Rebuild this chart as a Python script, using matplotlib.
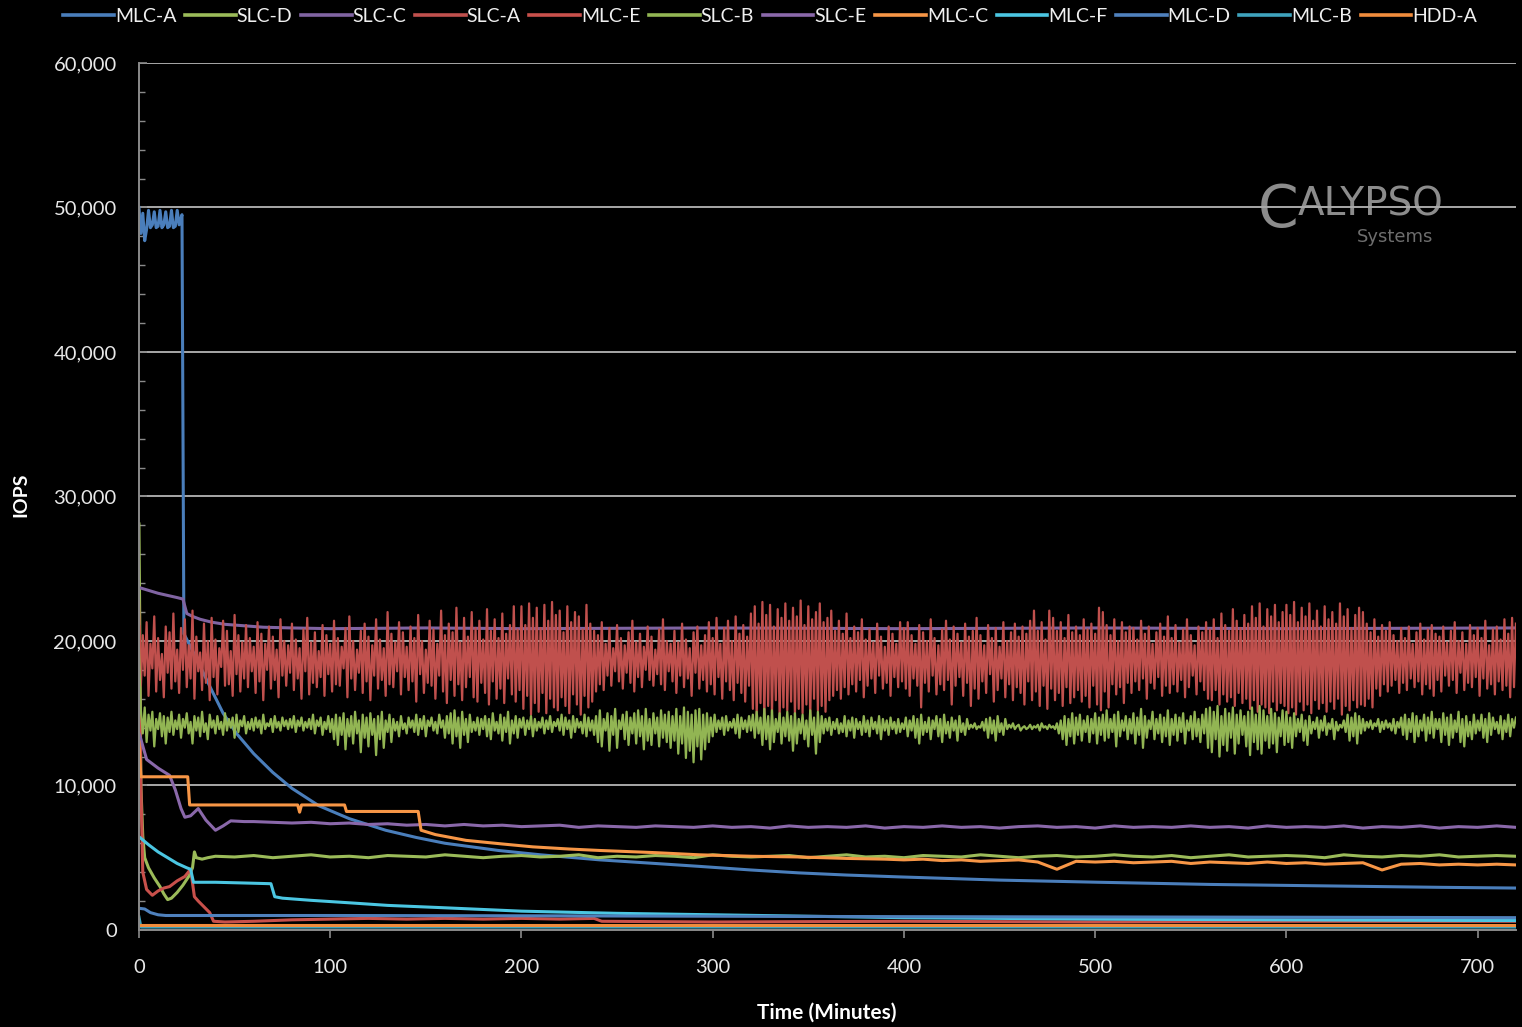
import numpy as np
import matplotlib.pyplot as plt
from matplotlib.ticker import FuncFormatter, MultipleLocator

plt.rcParams['font.family'] = ['Lato', 'DejaVu Sans']

names = ['MLC-A', 'SLC-D', 'SLC-C', 'SLC-A', 'MLC-E', 'SLC-B',
         'SLC-E', 'MLC-C', 'MLC-F', 'MLC-D', 'MLC-B', 'HDD-A']
colors = ['#4a7ebb', '#9bbb59', '#8064a2', '#c0504d', '#c8504b', '#92b553',
          '#8a68aa', '#f79646', '#4bc6e2', '#4f81bd', '#3fa3bd', '#f08c3c']

# values in thousands of IOPS, time in minutes

mlc_a_t = [0, 1, 2, 3, 4, 5, 6, 7, 8, 9, 10, 11, 12, 13, 14, 15, 16, 17, 18, 19, 20, 21,
           22.5, 23.5, 30, 38, 44, 51, 60, 70, 80, 94, 110, 129,
           145, 160, 188, 210, 241, 270, 293, 320, 345, 370,
           398, 450, 502, 560, 620, 680, 720]
mlc_a_v = [50.0, 48.2, 49.6, 47.7, 48.5, 49.8, 48.6, 48.8, 49.7, 48.6,
           48.7, 49.8, 48.6, 48.8, 49.7, 48.6, 48.7, 49.8, 48.6, 48.7,
           49.8, 48.8, 49.5, 20.5, 18.8, 16.6, 15.0, 13.6, 12.2, 10.9, 9.8, 8.6, 7.7, 6.9,
           6.4, 6.0, 5.5, 5.2, 4.85, 4.6, 4.4, 4.15, 3.95, 3.8,
           3.67, 3.45, 3.3, 3.15, 3.05, 2.95, 2.9]

slc_d_t = [0, 0.5, 1, 2, 3, 5, 8, 11, 13, 15, 17, 20, 23, 26, 28, 29, 30, 33, 36]
slc_d_v = [28.1, 20.0, 10.0, 6.5, 5.0, 4.3, 3.6, 3.0, 2.5, 2.1, 2.2, 2.6, 3.1, 3.7, 4.3, 5.4, 5.0, 4.9, 5.0]
slc_d_tail = [5.1, 5.05, 5.15, 5.0, 5.1, 5.2, 5.05, 5.1, 5.0, 5.15,
              5.1, 5.05, 5.2, 5.1, 5.0, 5.1, 5.15, 5.05, 5.1, 5.2,
              5.0, 5.1, 5.05, 5.15, 5.1, 5.0, 5.2, 5.1, 5.05, 5.1,
              5.15, 5.0, 5.1, 5.2, 5.05, 5.1, 5.0, 5.15, 5.1, 5.05,
              5.2, 5.1, 5.0, 5.1, 5.15, 5.05, 5.1, 5.2, 5.1, 5.05,
              5.15, 5.0, 5.1, 5.2, 5.05, 5.1, 5.15, 5.1, 5.0, 5.2,
              5.1, 5.05, 5.15, 5.1, 5.2, 5.05, 5.1, 5.15, 5.1]  # t = 40..720 step 10

slc_c_t = [0, 5, 10, 15, 20, 23, 25, 28, 32, 38, 45, 55, 65, 80, 100, 150, 200, 300, 400, 500, 600, 720]
slc_c_v = [23.7, 23.5, 23.3, 23.15, 23.0, 22.9, 21.9, 21.7, 21.5, 21.3, 21.15, 21.05, 20.95, 20.9,
           20.85, 20.9, 20.85, 20.9, 20.85, 20.9, 20.85, 20.9]

# SLC-A, one sample per minute (0..720)
slc_a_v = [
    22.8, 16.9, 20.4, 17.6, 21.3, 16.2, 19.8, 18.1, 21.7, 16.5, 20.2, 17.3, 19.1, 16.1, 21.0, 17.8, 20.6, 16.7, 21.9, 17.2,
    19.4, 16.4, 20.9, 18.0, 21.5, 16.8, 19.7, 17.4, 22.1, 16.0, 20.3, 17.9, 19.2, 16.6, 21.2, 17.1, 20.0, 15.9, 21.6, 17.5,
    20.1, 16.3, 19.5, 18.2, 21.4, 16.9, 20.7, 17.0, 19.3, 16.2, 21.8, 17.7, 20.4, 16.5, 19.9, 17.4, 21.1, 16.8, 20.2, 17.9,
    19.6, 16.4, 21.3, 17.2, 20.5, 15.9, 19.8, 18.0, 21.0, 16.7, 20.3, 17.3, 19.4, 16.1, 21.5, 17.6, 20.0, 16.9, 19.7, 17.8,
    21.2, 16.6, 20.1, 17.4, 19.5, 16.0, 20.8, 17.9, 21.6, 16.3, 19.9, 17.1, 20.6, 16.8, 19.3, 17.5, 21.1, 16.2, 20.4, 17.7,
    19.8, 16.5, 21.4, 17.0, 20.2, 16.9, 19.6, 18.1, 20.9, 16.1, 21.7, 17.4, 20.0, 16.6, 19.4, 17.8, 20.7, 16.4, 21.2, 17.2,
    20.3, 15.9, 19.7, 17.6, 21.5, 16.7, 20.1, 17.3, 19.5, 16.2, 22.0, 17.0, 20.5, 16.8, 19.9, 17.9, 21.3, 16.3, 20.6, 17.5,
    19.6, 16.6, 21.0, 17.2, 20.2, 15.8, 21.8, 17.7, 20.0, 16.4, 19.4, 17.1, 21.4, 16.9, 20.8, 16.0, 19.8, 17.6, 22.1, 16.5,
    20.4, 15.7, 21.2, 17.3, 20.6, 16.2, 22.3, 17.0, 19.9, 15.9, 21.6, 16.8, 20.3, 17.5, 22.0, 16.1, 20.9, 15.8, 21.4, 17.1,
    20.1, 16.4, 22.2, 15.6, 20.7, 17.2, 21.5, 16.0, 20.2, 16.7, 21.9, 15.7, 20.5, 17.4, 21.1, 16.3, 22.4, 15.8, 20.8, 16.6,
    22.4, 15.3, 21.1, 16.2, 22.6, 14.9, 21.6, 15.7, 22.3, 15.1, 20.9, 16.4, 22.5, 15.0, 21.4, 16.0, 22.7, 15.4, 21.8, 15.2,
    22.1, 16.1, 20.6, 15.5, 22.4, 15.0, 21.3, 16.3, 22.0, 15.6, 21.7, 14.9, 20.8, 16.2, 22.5, 15.4, 21.2, 15.8, 20.7, 16.5,
    20.4, 17.0, 21.3, 16.6, 19.8, 17.6, 20.9, 16.9, 19.5, 17.9, 21.1, 17.2, 20.2, 16.7, 19.7, 17.8, 20.6, 17.1, 21.4, 16.5,
    19.9, 17.5, 20.5, 16.8, 19.6, 18.0, 21.0, 17.3, 20.3, 16.9, 19.4, 17.7, 20.8, 17.0, 21.5, 16.6, 20.0, 17.9, 19.8, 17.2,
    20.7, 16.4, 19.9, 17.6, 21.2, 16.8, 20.1, 17.4, 19.5, 16.2, 20.6, 17.8, 21.0, 16.7, 19.7, 17.3, 20.4, 16.5, 21.3, 17.0,
    20.2, 16.3, 21.6, 17.5, 19.8, 16.0, 20.9, 17.2, 21.4, 16.6, 20.0, 15.9, 21.7, 17.1, 20.5, 16.4, 21.1, 15.8, 20.3, 16.9,
    21.9, 15.3, 22.4, 14.8, 21.2, 15.7, 22.7, 14.6, 21.8, 15.5, 22.5, 15.0, 21.0, 15.9, 22.2, 14.7, 21.6, 15.4, 22.6, 15.2,
    21.4, 15.8, 22.3, 14.9, 21.7, 15.3, 22.8, 15.0, 21.1, 15.6, 22.4, 14.7, 21.5, 16.0, 22.0, 15.2, 22.6, 15.5, 21.3, 15.1,
    21.6, 15.9, 22.1, 16.2, 20.7, 16.6, 21.4, 16.0, 20.5, 16.8, 21.9, 16.3, 20.2, 17.0, 21.0, 16.5, 20.6, 17.3, 21.5, 16.1,
    20.1, 16.9, 20.8, 17.4, 19.9, 16.4, 21.2, 17.6, 20.3, 16.7, 19.6, 17.1, 21.0, 16.2, 20.5, 17.5, 19.8, 16.8, 21.3, 17.2,
    20.9, 16.7, 21.3, 16.2, 20.4, 17.4, 19.8, 16.9, 21.1, 15.4, 20.6, 17.1, 20.0, 16.5, 21.5, 17.6, 20.2, 16.3, 19.7, 17.0,
    20.8, 16.6, 21.4, 17.3, 20.1, 15.6, 21.0, 16.9, 20.5, 17.5, 19.9, 16.2, 21.2, 17.1, 20.3, 15.5, 20.7, 16.7, 21.6, 16.0,
    20.4, 17.2, 19.7, 16.4, 21.1, 17.7, 20.2, 15.8, 20.9, 16.6, 19.6, 17.4, 21.3, 16.1, 20.0, 17.0, 20.6, 15.9, 21.2, 16.8,
    20.3, 16.4, 21.0, 15.6, 20.5, 17.2, 21.4, 15.9, 22.1, 16.5, 20.7, 15.5, 21.3, 16.9, 20.1, 15.3, 22.1, 16.7, 21.6, 15.9,
    20.7, 16.4, 21.3, 15.5, 20.2, 16.8, 21.8, 15.7, 20.6, 16.1, 21.0, 16.6, 20.4, 15.8, 21.5, 16.2, 20.8, 15.4, 21.2, 16.9,
    20.5, 15.6, 22.3, 15.2, 22.0, 16.5, 21.1, 15.4, 20.4, 17.0, 21.5, 16.3, 20.0, 16.8, 21.3, 15.7, 20.6, 17.1, 21.0, 16.4,
    20.9, 17.2, 20.1, 16.6, 21.4, 17.4, 20.5, 16.0, 21.0, 17.1, 19.8, 16.7, 20.6, 17.5, 21.2, 16.2, 20.3, 16.9, 21.7, 16.4,
    20.2, 17.0, 21.1, 16.5, 19.9, 17.3, 20.8, 16.1, 21.5, 16.8, 20.4, 17.6, 19.7, 16.3, 21.0, 17.2, 20.6, 16.6, 21.3, 16.0,
    20.8, 15.9, 21.5, 16.6, 20.2, 15.6, 21.9, 16.3, 21.1, 15.8, 20.7, 16.1, 22.2, 15.5, 21.4, 16.4, 20.9, 15.7, 21.8, 16.0,
    21.2, 15.3, 22.4, 15.9, 21.6, 15.1, 22.6, 15.6, 21.0, 15.4, 22.2, 15.0, 21.7, 15.8, 22.5, 15.2, 21.3, 15.7, 22.0, 15.5,
    22.5, 15.0, 21.8, 15.4, 22.7, 14.9, 21.3, 15.8, 22.3, 15.2, 21.7, 15.6, 22.6, 15.0, 21.4, 15.9, 22.1, 15.3, 21.0, 15.7,
    22.4, 15.1, 21.5, 15.8, 22.0, 15.3, 21.2, 16.0, 22.6, 14.9, 21.7, 15.5, 22.2, 15.2, 20.9, 15.9, 21.8, 15.4, 22.3, 15.6,
    22.0, 15.5, 21.2, 16.0, 20.6, 15.4, 21.5, 16.7, 20.3, 16.2, 21.1, 17.0, 20.7, 16.5, 21.3, 16.9, 20.4, 17.3, 20.0, 16.4,
    20.9, 17.1, 20.2, 16.6, 21.0, 17.4, 19.8, 16.8, 20.6, 17.2, 21.2, 16.3, 20.1, 17.0, 20.8, 16.7, 21.1, 16.2, 20.5, 17.3,
    20.3, 16.5, 21.0, 17.6, 19.9, 16.9, 20.7, 17.3, 21.3, 16.4, 20.0, 17.8, 20.6, 16.6, 19.8, 17.1, 21.1, 16.8, 20.4, 17.5,
    20.9, 16.2, 20.2, 17.4, 21.4, 16.7, 19.7, 17.0, 20.8, 16.3, 21.0, 17.2, 20.1, 16.6, 21.5, 16.9, 20.5, 16.1, 21.6, 16.8,
    21.2]

mlc_e_t = [0, 1, 2, 4, 7, 10, 13, 16, 20, 24, 27, 29, 31, 34, 37, 39, 45, 60, 80, 100,
           120, 140, 160, 180, 200, 220, 238, 242, 300, 400, 500, 600, 720]
mlc_e_v = [21.0, 10.0, 4.0, 2.8, 2.4, 2.7, 2.9, 3.0, 3.4, 3.7, 4.2, 2.3, 2.0, 1.6, 1.2, 0.6, 0.55, 0.6, 0.7, 0.75,
           0.8, 0.75, 0.8, 0.75, 0.8, 0.75, 0.8, 0.6, 0.55, 0.6, 0.55, 0.6, 0.6]

# SLC-B, one sample per minute (0..720)
slc_b_v = [
    19.5, 15.2, 13.6, 15.4, 13.0, 14.9, 13.8, 15.1, 12.7, 14.6, 13.9, 15.0, 13.4, 14.8, 12.9, 14.7, 13.7, 15.1, 13.5, 14.5,
    13.9, 14.9, 13.3, 14.6, 14.0, 15.0, 13.6, 14.4, 12.9, 14.8, 13.8, 14.7, 13.4, 15.1, 13.7, 14.3, 13.2, 14.9, 14.0, 14.5,
    13.6, 14.8, 13.9, 14.4, 13.5, 15.0, 13.8, 14.6, 14.0, 14.7, 13.3, 14.9, 13.7, 14.5, 14.1, 14.8, 13.6, 14.4, 13.9, 14.6,
    13.8, 14.7, 14.0, 14.5, 13.6, 14.9, 13.9, 14.3, 14.1, 14.6, 13.7, 14.8, 14.0, 14.4, 13.8, 14.7, 14.1, 14.5, 13.9, 14.6,
    14.0, 14.8, 13.7, 14.5, 14.1, 14.7, 13.8, 14.4, 14.0, 14.6, 13.9, 14.9, 13.6, 14.5, 14.1, 14.7, 13.5, 14.4, 13.9, 14.8,
    13.7, 14.6, 13.2, 14.9, 12.8, 14.7, 13.5, 15.0, 12.5, 14.6, 13.4, 14.8, 12.9, 15.1, 13.6, 14.5, 12.3, 14.9, 13.3, 14.7,
    12.7, 15.0, 13.5, 14.6, 12.1, 14.8, 13.2, 15.1, 12.6, 14.5, 13.7, 14.9, 13.0, 14.6, 13.8, 14.4, 13.4, 14.8, 13.9, 14.3,
    13.6, 14.7, 14.0, 14.5, 13.7, 14.9, 13.5, 14.6, 13.9, 14.8, 13.4, 14.5, 14.1, 14.7, 13.8, 14.4, 13.6, 14.9, 14.0, 14.5,
    13.3, 14.8, 13.6, 15.0, 12.9, 15.2, 13.4, 14.7, 12.6, 15.1, 13.5, 14.6, 13.0, 14.9, 13.7, 14.4, 13.8, 14.7, 13.5, 14.6,
    13.9, 14.8, 13.4, 14.6, 13.2, 15.0, 13.8, 14.4, 13.6, 14.9, 13.1, 14.7, 13.7, 15.1, 12.9, 14.5, 13.6, 14.8, 13.3, 14.6,
    14.0, 14.7, 13.5, 14.5, 13.9, 14.8, 13.4, 14.6, 13.8, 14.4, 14.0, 14.7, 13.6, 14.5, 13.9, 14.8, 13.7, 14.4, 14.1, 14.6,
    13.8, 14.9, 13.5, 14.7, 13.9, 14.5, 13.3, 14.8, 13.7, 14.6, 14.0, 14.4, 13.6, 14.9, 13.4, 14.7, 13.8, 14.5, 13.5, 14.8,
    13.0, 15.2, 12.7, 14.6, 13.8, 15.0, 12.4, 14.8, 13.5, 15.3, 12.6, 14.5, 13.9, 14.9, 13.2, 15.1, 12.8, 14.7, 13.6, 15.0,
    12.9, 15.2, 13.4, 14.8, 12.5, 15.3, 13.1, 14.6, 12.8, 15.0, 13.6, 14.7, 12.7, 15.2, 13.3, 14.9, 13.0, 15.1, 12.6, 14.8,
    13.1, 15.3, 12.2, 14.8, 12.9, 15.4, 11.9, 15.1, 12.4, 14.9, 11.6, 15.2, 12.7, 15.3, 11.8, 14.9, 12.5, 15.0, 13.0, 14.7,
    13.4, 14.9, 13.7, 14.5, 13.9, 14.7, 13.5, 14.8, 13.8, 14.4, 14.0, 14.6, 13.6, 14.9, 13.3, 14.7, 13.9, 14.5, 13.7, 14.8,
    13.8, 14.9, 13.3, 15.1, 13.6, 14.7, 12.8, 15.3, 13.2, 14.8, 12.5, 15.2, 13.0, 14.6, 13.7, 15.0, 12.9, 14.7, 13.4, 15.1,
    13.1, 14.8, 12.4, 15.0, 12.9, 14.6, 13.6, 14.9, 13.2, 14.5, 12.7, 15.2, 13.5, 14.7, 12.2, 15.1, 13.0, 14.8, 13.6, 14.6,
    13.8, 14.7, 13.5, 14.4, 13.9, 14.6, 13.6, 14.3, 13.7, 14.8, 13.4, 14.5, 13.8, 14.7, 13.3, 14.6, 13.9, 14.4, 13.5, 14.8,
    13.7, 14.5, 13.4, 14.7, 13.9, 14.4, 13.6, 14.8, 13.2, 14.6, 13.8, 14.5, 13.5, 14.7, 13.9, 14.4, 13.6, 14.6, 13.7, 14.3,
    13.9, 14.7, 13.4, 14.5, 13.8, 14.8, 13.3, 14.6, 12.9, 14.9, 13.5, 14.4, 13.7, 14.7, 13.2, 14.5, 13.9, 14.8, 13.4, 14.6,
    13.0, 14.9, 13.6, 14.4, 13.3, 14.7, 13.8, 14.5, 13.1, 14.8, 13.7, 14.3, 13.5, 14.6, 13.9, 14.2, 14.0, 14.3, 13.9, 14.1,
    14.0, 14.4, 13.8, 14.6, 13.3, 14.7, 13.6, 14.5, 13.1, 14.8, 13.7, 14.3, 13.5, 14.6, 13.9, 14.2, 14.0, 14.3, 13.9, 14.1,
    14.2, 13.8, 14.0, 14.1, 13.9, 14.0, 14.2, 13.9, 14.1, 14.0, 14.2, 13.8, 14.3, 14.0, 14.1, 13.9, 14.2, 14.0, 14.1, 13.9,
    14.3, 13.6, 14.5, 13.2, 14.8, 12.8, 14.6, 13.4, 15.0, 12.9, 14.7, 13.5, 14.9, 13.1, 14.5, 13.7, 14.8, 13.0, 14.6, 13.6,
    15.0, 12.9, 14.7, 13.5, 14.9, 13.1, 15.2, 13.3, 14.6, 13.7, 14.9, 12.7, 15.1, 13.4, 14.5, 13.8, 14.8, 13.2, 14.6, 13.6,
    15.0, 12.9, 14.7, 13.5, 15.3, 12.6, 14.8, 13.3, 14.5, 13.9, 15.1, 13.2, 14.6, 13.6, 14.9, 13.0, 14.7, 13.4, 15.2, 12.8,
    14.6, 13.5, 14.9, 13.1, 14.7, 13.7, 15.0, 12.9, 14.5, 13.8, 14.8, 13.2, 15.1, 13.4, 14.6, 13.0, 14.9, 13.6, 15.3, 12.6,
    15.4, 12.3, 15.1, 13.2, 15.5, 12.0, 14.8, 12.8, 15.3, 12.4, 15.0, 13.3, 15.4, 12.2, 14.9, 12.9, 15.2, 13.5, 14.8, 12.7,
    15.1, 12.1, 15.4, 13.0, 14.9, 12.5, 15.5, 12.2, 15.2, 13.1, 14.8, 12.6, 15.3, 12.9, 15.0, 12.3, 14.7, 13.4, 15.2, 12.8,
    15.1, 13.0, 14.7, 12.6, 15.0, 13.4, 14.6, 13.7, 14.9, 13.1, 14.5, 12.8, 14.8, 13.6, 14.4, 13.9, 14.7, 13.3, 14.5, 13.8,
    14.8, 13.5, 14.3, 13.9, 14.6, 13.2, 14.4, 13.8, 14.2, 14.0, 14.5, 13.7, 14.9, 13.1, 14.7, 13.4, 15.0, 12.9, 14.8, 13.6,
    14.6, 13.8, 14.4, 14.0, 14.5, 13.9, 14.3, 14.1, 14.6, 13.7, 14.4, 13.9, 14.5, 14.0, 14.3, 13.8, 14.6, 13.6, 14.4, 14.0,
    14.7, 13.5, 14.9, 13.2, 14.6, 13.7, 15.0, 13.0, 14.8, 13.4, 14.5, 13.8, 14.9, 13.1, 14.7, 13.6, 15.1, 13.3, 14.6, 13.9,
    14.6, 13.0, 15.0, 13.5, 14.7, 12.8, 14.9, 13.3, 14.5, 13.7, 15.1, 13.0, 14.6, 12.7, 14.8, 13.4, 14.4, 13.2, 14.9, 13.6,
    14.5, 13.8, 14.9, 13.3, 14.6, 13.0, 15.0, 13.5, 14.7, 13.9, 14.4, 13.6, 14.8, 13.2, 14.5, 13.7, 14.9, 13.4, 14.6, 14.0,
    14.7]

slc_e_t = [0, 1, 4, 10, 16, 19, 22, 24, 27, 31, 35, 40, 44, 48, 55]
slc_e_v = [13.6, 13.2, 11.8, 11.2, 10.7, 9.7, 8.4, 7.8, 7.9, 8.4, 7.6, 6.9, 7.2, 7.55, 7.5]
slc_e_tail = [7.5, 7.45, 7.4, 7.45, 7.35, 7.4, 7.3, 7.35, 7.25, 7.3,
              7.2, 7.3, 7.2, 7.25, 7.15, 7.2, 7.25, 7.1, 7.2, 7.15,
              7.1, 7.2, 7.15, 7.1, 7.2, 7.1, 7.15, 7.05, 7.2, 7.1,
              7.15, 7.1, 7.2, 7.05, 7.15, 7.1, 7.2, 7.1, 7.15, 7.05,
              7.15, 7.2, 7.1, 7.15, 7.05, 7.2, 7.1, 7.15, 7.1, 7.2,
              7.1, 7.15, 7.05, 7.2, 7.1, 7.15, 7.1, 7.2, 7.05, 7.15,
              7.1, 7.2, 7.05, 7.15, 7.1, 7.2, 7.1]  # t = 60..720 step 10

mlc_c_t = [0, 1, 25.5, 26.5, 83, 84, 85, 107.5, 108.5, 146, 147.5, 155, 171, 190, 206, 225, 241, 270, 293, 320,
           345, 370, 390]
mlc_c_v = [13.0, 10.6, 10.6, 8.65, 8.65, 8.15, 8.65, 8.65, 8.2, 8.2, 6.9, 6.6, 6.2, 5.95, 5.75, 5.6, 5.5, 5.35, 5.2, 5.1,
           5.05, 4.95, 4.9]
mlc_c_tail = [4.85, 4.9, 4.8, 4.85, 4.75, 4.8, 4.85, 4.7, 4.2, 4.75,
              4.7, 4.75, 4.65, 4.7, 4.75, 4.6, 4.7, 4.65, 4.6, 4.7,
              4.6, 4.65, 4.55, 4.6, 4.65, 4.15, 4.55, 4.6, 4.5, 4.55,
              4.5, 4.55, 4.5]  # t = 400..720 step 10

mlc_f_t = [0, 5, 10, 15, 20, 25, 27, 28.5, 40, 55, 69, 71, 75, 90, 111, 130, 157, 200, 250, 300, 400, 500, 600, 720]
mlc_f_v = [6.45, 5.9, 5.4, 5.0, 4.6, 4.3, 4.2, 3.3, 3.3, 3.25, 3.2, 2.3, 2.2, 2.05, 1.87, 1.7, 1.55, 1.3, 1.15, 1.05,
           0.85, 0.75, 0.7, 0.65]

mlc_d_t = [0, 3, 6, 10, 14, 100, 200, 300, 400, 500, 600, 720]
mlc_d_v = [1.5, 1.45, 1.2, 1.05, 1.0, 1.0, 0.98, 0.95, 0.92, 0.9, 0.88, 0.85]

mlc_b_t = [0, 1, 720]
mlc_b_v = [0.9, 0.2, 0.2]

hdd_a_t = [0, 720]
hdd_a_v = [0.35, 0.35]

t1 = np.arange(0, 721)
series = [
    (mlc_a_t, mlc_a_v),
    (slc_d_t + list(range(40, 721, 10)), slc_d_v + slc_d_tail),
    (slc_c_t, slc_c_v),
    (t1, slc_a_v),
    (mlc_e_t, mlc_e_v),
    (t1, slc_b_v),
    (slc_e_t + list(range(60, 721, 10)), slc_e_v + slc_e_tail),
    (mlc_c_t + list(range(400, 721, 10)), mlc_c_v + mlc_c_tail),
    (mlc_f_t, mlc_f_v),
    (mlc_d_t, mlc_d_v),
    (mlc_b_t, mlc_b_v),
    (hdd_a_t, hdd_a_v),
]

fig = plt.figure(figsize=(15.22, 10.27), dpi=100, facecolor='black')
ax = fig.add_axes([0.0913, 0.0945, 0.9047, 0.8442])
ax.set_facecolor('black')

handles = []
for i, (name, (t, v)) in enumerate(zip(names, series)):
    assert len(t) == len(v), (name, len(t), len(v))
    lw = 1.6 if name in ('SLC-A', 'SLC-B') else 2.2
    ln, = ax.plot(t, np.array(v) * 1000, color=colors[i], lw=lw, zorder=2 + i * 0.01)
    handles.append(ln)

ax.set_xlim(0, 720)
ax.set_ylim(0, 60000)
ax.xaxis.set_major_locator(MultipleLocator(100))
ax.yaxis.set_major_locator(MultipleLocator(10000))
ax.yaxis.set_minor_locator(MultipleLocator(2000))
ax.yaxis.set_major_formatter(FuncFormatter(lambda v, p: f'{int(v):,}'))

ax.set_axisbelow(True)
ax.yaxis.grid(True, color='#a8a8a8', lw=1.4)
ax.get_ygridlines()[-1].set_visible(False)
ax.get_ygridlines()[0].set_visible(False)

for s in ['top', 'right']:
    ax.spines[s].set_visible(False)
for s in ['left', 'bottom']:
    ax.spines[s].set_color('#8a8a8a')
    ax.spines[s].set_linewidth(1.4)

ax.tick_params(axis='y', which='major', direction='in', length=6, width=1.2, color='#8a8a8a',
               labelsize=14.5, labelcolor='#e8e8e8', pad=16)
ax.tick_params(axis='y', which='minor', direction='in', length=4, width=1.0, color='#8a8a8a')
ax.tick_params(axis='x', which='major', direction='out', length=6, width=1.2, color='#8a8a8a',
               labelsize=14.5, labelcolor='#e8e8e8', pad=15)

fig.text(0.0135, 1 - 495 / 1027, 'IOPS', rotation=90, ha='center', va='center',
         fontsize=14, fontweight='bold', color='white')
fig.text(0.5435, 1 - 1013 / 1027, 'Time (Minutes)', ha='center', va='center',
         fontsize=15, fontweight='bold', color='white')

# watermark
ax.text(585, 48650, 'C', fontsize=42, color='#8c8c8c', family='DejaVu Sans',
        ha='left', va='baseline', zorder=0.2)
ax.text(606, 49410, 'ALYPSO', fontsize=28, color='#8c8c8c', family='DejaVu Sans',
        ha='left', va='baseline', zorder=0.2)
ax.text(637, 47610, 'Systems', fontsize=13, color='#6e6e6e', family='DejaVu Sans',
        ha='left', va='baseline', zorder=0.2)

leg = fig.legend(handles, names, loc='center', bbox_to_anchor=(0.506, 0.984), ncol=12,
                 frameon=False, fontsize=14, handlelength=2.6, handletextpad=0.05,
                 columnspacing=0.45, labelcolor='#f0f0f0', borderpad=0)
for h in leg.legend_handles:
    h.set_linewidth(2.6)

fig.savefig('out.png', dpi=100, facecolor='black')
